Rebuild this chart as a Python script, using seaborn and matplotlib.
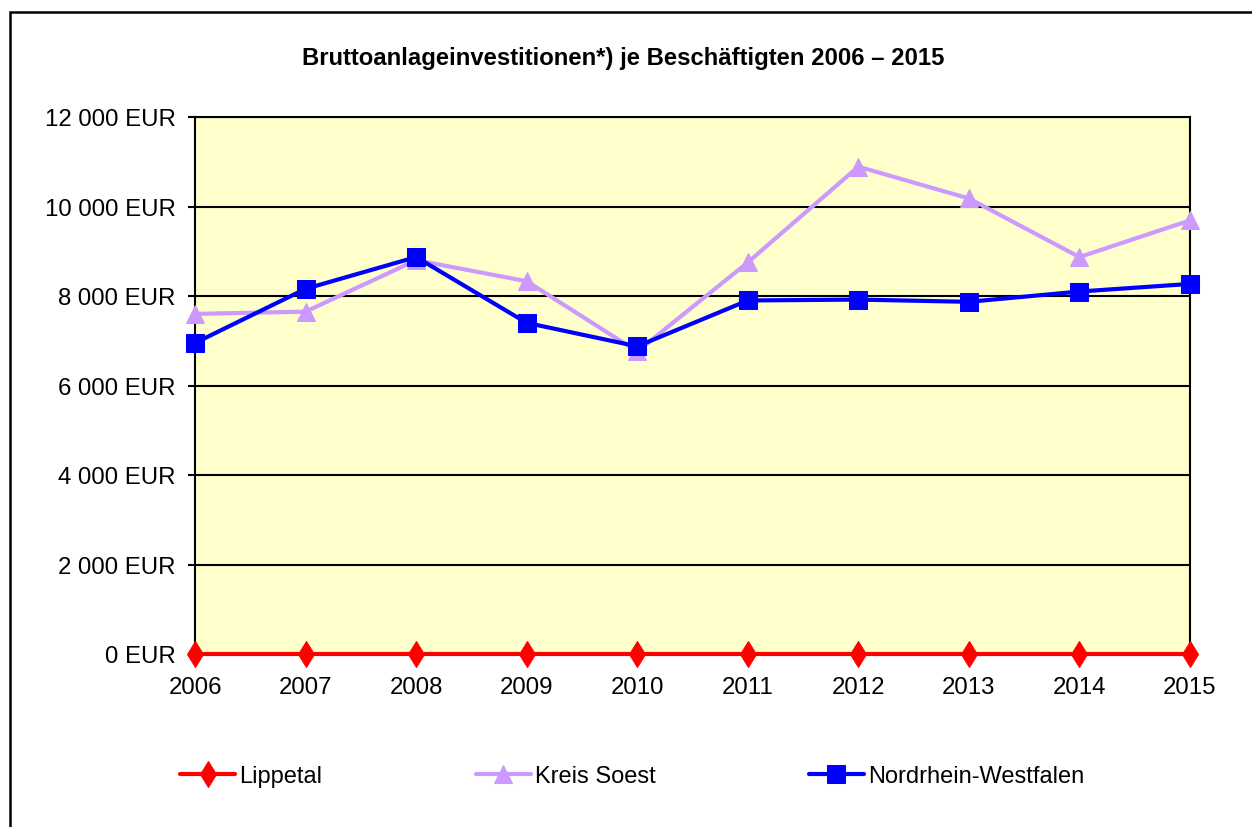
import matplotlib
matplotlib.use("Agg")
import matplotlib.pyplot as plt
import matplotlib.patches as mpatches
from matplotlib.ticker import FuncFormatter
import seaborn as sns
import pandas as pd

# ---- data ----
years = ["2006", "2007", "2008", "2009", "2010", "2011", "2012", "2013", "2014", "2015"]
lippetal = [0, 0, 0, 0, 0, 0, 0, 0, 0, 0]
kreis_soest = [7600, 7650, 8800, 8330, 6760, 8750, 10890, 10180, 8870, 9690]
nrw = [6950, 8160, 8870, 7400, 6875, 7900, 7920, 7870, 8100, 8270]
series_names = ["Lippetal", "Kreis Soest", "Nordrhein-Westfalen"]
title = "Bruttoanlageinvestitionen*) je Beschäftigten 2006 \u2013 2015"

sns.set_theme(style="white")
plt.rcParams["font.family"] = ["Liberation Sans", "DejaVu Sans"]
plt.rcParams["text.color"] = "black"

W, H = 1252, 828
fig = plt.figure(figsize=(W / 100, H / 100), dpi=100)
fig.patch.set_facecolor("white")

ax = fig.add_axes([195 / W, 1 - 655 / H, (1190 - 195) / W, (655 - 118) / H])
ax.set_facecolor("#FFFFCC")

idx = list(range(len(years)))
df = pd.DataFrame({"x": idx, "Lippetal": lippetal, "Kreis Soest": kreis_soest,
                   "Nordrhein-Westfalen": nrw})

styles = {
    "Lippetal": dict(color="#FF0000", marker="d", markersize=13, zorder=3),
    "Kreis Soest": dict(color="#CC99FF", marker="^", markersize=13, zorder=4),
    "Nordrhein-Westfalen": dict(color="#0000FF", marker="s", markersize=13, zorder=5),
}
for name in series_names:
    st = styles[name]
    sns.lineplot(data=df, x="x", y=name, ax=ax, color=st["color"], marker=st["marker"],
                 markersize=st["markersize"], markeredgecolor=st["color"],
                 linewidth=3, label=name, zorder=st["zorder"], clip_on=False, legend=False)

ax.set_xlim(0, len(years) - 1)
ax.set_ylim(0, 12000)
ax.set_yticks(range(0, 12001, 2000))
ax.yaxis.set_major_formatter(FuncFormatter(lambda v, p: f"{int(v):,}".replace(",", " ") + " EUR"))
ax.set_xticks(idx)
ax.set_xticklabels(years)
ax.set_xlabel("")
ax.set_ylabel("")
ax.grid(axis="y", color="black", linewidth=1.5, zorder=1)
ax.set_axisbelow(True)
ax.tick_params(axis="y", left=True, length=5, width=1.5, color="black", pad=9,
               labelsize=17.3, labelcolor="black")
ax.tick_params(axis="x", bottom=False, length=0, pad=16, labelsize=17.3, labelcolor="black")
for s in ["left", "right", "top", "bottom"]:
    ax.spines[s].set_visible(True)
    ax.spines[s].set_color("black")
    ax.spines[s].set_linewidth(1.5)

fig.text(623 / W, 1 - 58 / H, title, ha="center", va="center", fontsize=17.2,
         fontweight="bold", color="black")

handles, labels = ax.get_legend_handles_labels()
fig.legend(handles, labels, loc="center left", bbox_to_anchor=(180 / W, 1 - 777 / H),
           ncol=3, frameon=False, fontsize=17.0, handlelength=2.35, handletextpad=0.15,
           columnspacing=6.5, borderpad=0, borderaxespad=0, markerscale=1.0,
           labelcolor="black")

frame = mpatches.Rectangle((10 / W, -0.05), 1.2, (H - 13) / H + 0.05, transform=fig.transFigure,
                           fill=False, edgecolor="black", linewidth=1.8, zorder=10)
fig.patches.append(frame)

fig.savefig("out.png", dpi=100)
